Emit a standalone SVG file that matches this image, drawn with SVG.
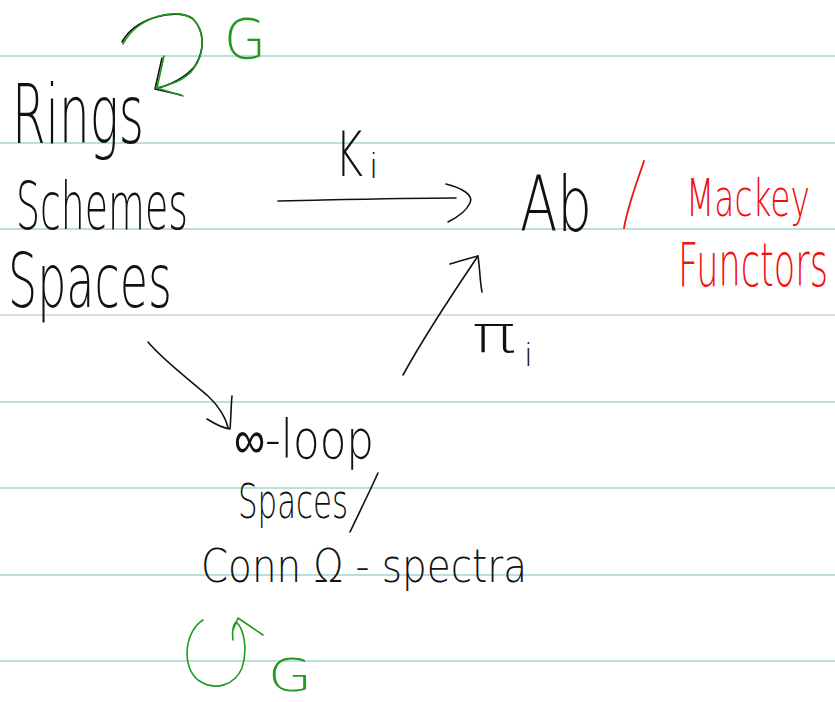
<svg xmlns="http://www.w3.org/2000/svg" width="835" height="702" viewBox="0 0 835 702">
<style>
.rule{stroke:#a9d3d3;stroke-width:1.6}
.ink{font-family:"DejaVu Sans","Liberation Sans",sans-serif;font-weight:200;fill:#111}
.red{font-family:"DejaVu Sans","Liberation Sans",sans-serif;font-weight:200;fill:#f01010}
.grn{font-family:"DejaVu Sans","Liberation Sans",sans-serif;font-weight:200;fill:#1f9a1f}
.pen{fill:none;stroke:#111;stroke-width:1.6;stroke-linecap:round;stroke-linejoin:round}
.gpen{fill:none;stroke:#1f9a1f;stroke-width:1.6;stroke-linecap:round;stroke-linejoin:round}
.rpen{fill:none;stroke:#f01010;stroke-width:1.8;stroke-linecap:round}
</style>
<rect width="835" height="702" fill="#fff"/>
<g id="ruled-lines">
<line class="rule" x1="0" y1="56" x2="835" y2="56"/>
<line class="rule" x1="0" y1="143" x2="835" y2="143"/>
<line class="rule" x1="0" y1="229" x2="835" y2="229"/>
<line class="rule" x1="0" y1="315" x2="835" y2="315" style="stroke:#c8d4d4"/>
<line class="rule" x1="0" y1="402" x2="835" y2="402"/>
<line class="rule" x1="0" y1="488" x2="835" y2="488"/>
<line class="rule" x1="0" y1="575" x2="835" y2="575"/>
<line class="rule" x1="0" y1="661" x2="835" y2="661"/>
</g>
<g id="rings-g-action">
<path class="pen" d="M122,42 C135,18 175,8 192,18 C205,30 205,50 195,66 C185,78 170,85 155,89 M162,58 L155,89 L181,95"/>
<path class="gpen" d="M123,44 C138,16 178,6 194,20 C206,34 204,54 194,68 C186,80 168,86 156,88 M164,56 L157,88 L183,96"/>
<text class="grn" x="224" y="58" font-size="56" textLength="42" lengthAdjust="spacingAndGlyphs">G</text>
</g>
<g id="rings"><text class="ink" x="12" y="143" font-size="82" textLength="132" lengthAdjust="spacingAndGlyphs">Rings</text></g>
<g id="schemes"><text class="ink" x="16" y="229" font-size="66" textLength="172" lengthAdjust="spacingAndGlyphs">Schemes</text></g>
<g id="spaces"><text class="ink" x="8" y="307" font-size="74" textLength="164" lengthAdjust="spacingAndGlyphs">Spaces</text></g>
<g id="ab"><text class="ink" x="520" y="231" font-size="76" textLength="72" lengthAdjust="spacingAndGlyphs">Ab</text></g>
<g id="mackey">
<path class="rpen" d="M644,161 C636,185 628,205 624,228"/>
<text class="red" transform="translate(686,216) scale(1,1.45)" font-size="36" textLength="124" lengthAdjust="spacingAndGlyphs">Mackey</text>
<text class="red" transform="translate(678,286) scale(1,1.75)" font-size="35" textLength="150" lengthAdjust="spacingAndGlyphs">Functors</text>
</g>
<g id="loop-spaces">
<text class="ink" x="234" y="458" font-size="54" textLength="140" lengthAdjust="spacingAndGlyphs">∞-loop</text>
<text class="ink" x="238" y="518" font-size="48" textLength="110" lengthAdjust="spacingAndGlyphs">Spaces</text>
<path class="pen" d="M378,473 C368,495 358,515 350,532"/>
<text class="ink" x="201" y="582" font-size="46" textLength="326" lengthAdjust="spacingAndGlyphs">Conn Ω - spectra</text>
</g>
<g id="spectra-g-action">
<path class="gpen" d="M203,620 C186,630 180,665 198,680 C215,692 235,685 242,668 C248,650 244,628 236,622 C232,626 232,632 233,640 M233,630 L238,618 L263,635"/>
<text class="grn" x="268" y="691" font-size="44" textLength="44" lengthAdjust="spacingAndGlyphs">G</text>
</g>
<g id="connectors">
<path class="pen" d="M278,201 C330,200 400,198 456,198"/>
<path class="pen" d="M446,184 C462,188 474,195 470,203 C466,212 456,218 448,222"/>
<text class="ink" transform="translate(335,176) scale(1,1.4)" font-size="44" textLength="28" lengthAdjust="spacingAndGlyphs">K</text>
<text class="ink" x="369" y="178" font-size="34">i</text>
<path class="pen" d="M403,375 C425,335 455,290 478,256"/>
<path class="pen" d="M450,264 C460,261 470,258 478,256 C480,270 480,282 482,292"/>
<text class="ink" x="472" y="352" font-size="52" textLength="44" lengthAdjust="spacingAndGlyphs">π</text>
<text class="ink" x="524" y="366" font-size="32">i</text>
<path class="pen" d="M148,342 C165,362 190,380 208,396 C218,405 226,418 228,428"/>
<path class="pen" d="M207,419 C215,424 222,428 230,429 C231,418 231,405 232,396"/>
</g>
</svg>
